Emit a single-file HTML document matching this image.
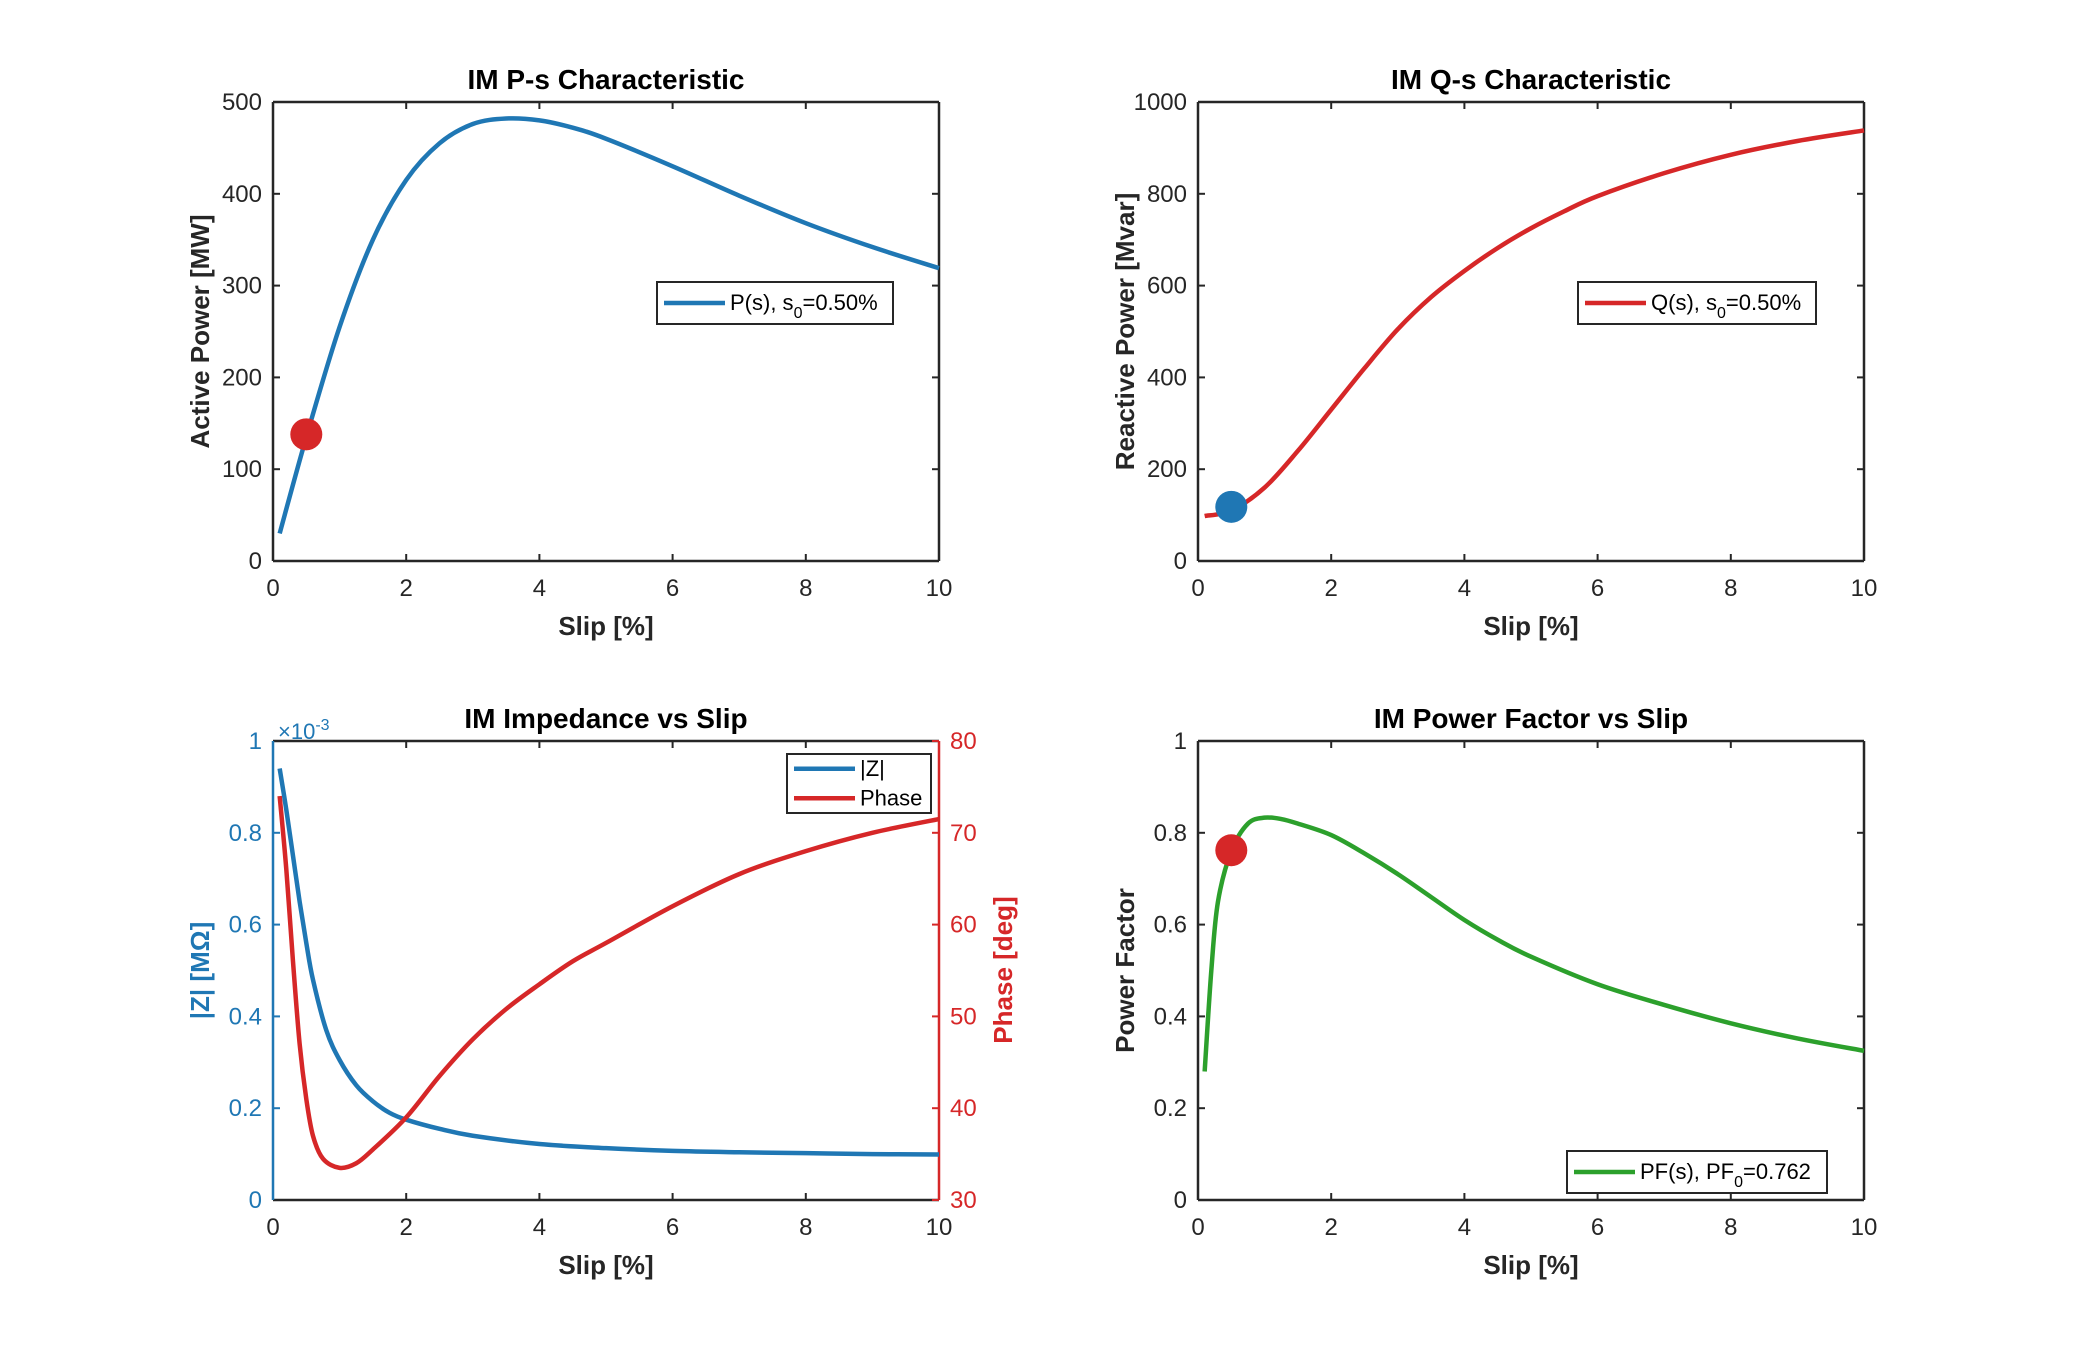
<!DOCTYPE html>
<html><head><meta charset="utf-8"><style>
body{margin:0;background:#fff}
svg{display:block;font-family:"Liberation Sans",Arial,sans-serif}
</style></head><body>
<svg id="fig" width="2100" height="1350" viewBox="0 0 2100 1350" xmlns="http://www.w3.org/2000/svg">
<rect width="2100" height="1350" fill="#fff"/>
</svg>
<script>
const pS=[0.1,0.5,1,1.5,2,2.5,3,3.5,4,4.5,5,6,7,8,9,10];
const pVals=[30,135,255,350,415,455,476,482,480,472,460,430,398,368,342,319];
const pMarker=[0.5,138];
const qS=[0.1,0.5,1,1.5,2,2.5,3,3.5,4,4.5,5,5.5,6,7,8,9,10];
const qVals=[98,110,160,240,330,420,505,575,632,682,725,762,795,845,885,915,938];
const qMarker=[0.5,118];
const zS=[0.1,0.2,0.3,0.4,0.5,0.6,0.8,1,1.25,1.5,1.75,2,2.5,3,4,5,6,7,8,9,10];
const zVals=[0.94,0.85,0.75,0.65,0.56,0.48,0.37,0.305,0.25,0.215,0.19,0.175,0.155,0.14,0.122,0.113,0.107,0.104,0.102,0.100,0.099];
const phS=[0.1,0.2,0.3,0.4,0.5,0.6,0.75,1,1.25,1.5,2,2.5,3,3.5,4,4.5,5,6,7,8,9,10];
const phVals=[74,66,56,47,41,37,34.5,33.5,34,35.5,39,43.5,47.5,50.8,53.5,56,58,62,65.5,68,70,71.5];
const pfS=[0.1,0.2,0.3,0.5,0.75,1,1.25,1.5,2,2.5,3,3.5,4,4.5,5,6,7,8,9,10];
const pfVals=[0.28,0.5,0.65,0.76,0.82,0.833,0.83,0.82,0.795,0.755,0.71,0.66,0.61,0.567,0.53,0.47,0.425,0.385,0.352,0.325];
const pfMarker=[0.5,0.762];
const xTicks=[0,2,4,6,8,10];
const pTicks=[0,100,200,300,400,500];
const qTicks=[0,200,400,600,800,1000];
const zTicks=[0,0.2,0.4,0.6,0.8,1];
const zTickLabels=["0","0.2","0.4","0.6","0.8","1"];
const phTicks=[30,40,50,60,70,80];
const pfTicks=[0,0.2,0.4,0.6,0.8,1];
const pfTickLabels=["0","0.2","0.4","0.6","0.8","1"];

const NS="http://www.w3.org/2000/svg";
const svg=document.getElementById('fig');
const BLUE="#1f77b4",RED="#d62728",GREEN="#2ca02c",AX="#262626";
function mk(tag,attrs,parent){const e=document.createElementNS(NS,tag);for(const k in attrs)e.setAttribute(k,attrs[k]);(parent||svg).appendChild(e);return e;}
function lin(d0,d1,r0,r1){return v=>r0+(v-d0)/(d1-d0)*(r1-r0);}
function pathD(xs,ys,X,Y){
  const P=xs.map((x,i)=>[X(x),Y(ys[i])]);
  let d="M"+P[0][0]+","+P[0][1];
  for(let i=0;i<P.length-1;i++){
    const p0=P[Math.max(0,i-1)],p1=P[i],p2=P[i+1],p3=P[Math.min(P.length-1,i+2)];
    const c1=[p1[0]+(p2[0]-p0[0])/6,p1[1]+(p2[1]-p0[1])/6];
    const c2=[p2[0]-(p3[0]-p1[0])/6,p2[1]-(p3[1]-p1[1])/6];
    d+=` C${c1[0]},${c1[1]} ${c2[0]},${c2[1]} ${p2[0]},${p2[1]}`;
  }
  return d;
}
function text(g,x,y,str,o){const t=mk('text',Object.assign({x:x,y:y,'font-size':24,fill:AX},o||{}),g);t.textContent=str;return t;}

function axes(name,L,T,W,H,title,ylabel,yTicks,yLabs,yMax,yMin,opts){
  opts=opts||{};
  const g=mk('g',{});
  
  
  const X=lin(0,10,L,L+W),Y=lin(yMin,yMax,T+H,T);
  const xg=mk('g',{},g);
  
  
  xTicks.forEach(v=>{
    mk('line',{x1:X(v),x2:X(v),y1:T+H,y2:T+H-7,stroke:AX,'stroke-width':2},xg);
    mk('line',{x1:X(v),x2:X(v),y1:T,y2:T+7,stroke:AX,'stroke-width':2},xg);
    text(xg,X(v),T+H+35,String(v),{'text-anchor':'middle'});
  });
  const xl=text(xg,L+W/2,T+H+74,"Slip [%]",{'text-anchor':'middle','font-weight':'bold','font-size':26});
  
  
  const yc=opts.yColor||AX;
  const yg=mk('g',{},g);
  
  
  yTicks.forEach((v,i)=>{
    mk('line',{x1:L,x2:L+7,y1:Y(v),y2:Y(v),stroke:yc,'stroke-width':2},yg);
    if(!opts.right) mk('line',{x1:L+W,x2:L+W-7,y1:Y(v),y2:Y(v),stroke:AX,'stroke-width':2},yg);
    text(yg,L-11,Y(v)+8,yLabs[i],{'text-anchor':'end',fill:yc});
  });
  const yl=text(yg,0,0,ylabel,{'text-anchor':'middle','font-weight':'bold','font-size':26,fill:yc,transform:`translate(${L-64},${T+H/2}) rotate(-90)`});
  
  
  const tt=text(g,L+W/2,T-13,title,{'text-anchor':'middle','font-weight':'bold','font-size':28,fill:'#000'});
  
  
  mk('line',{x1:L,y1:T+H,x2:L+W,y2:T+H,stroke:AX,'stroke-width':2.5},g);
  mk('line',{x1:L,y1:T,x2:L+W,y2:T,stroke:AX,'stroke-width':2.5},g);
  mk('line',{x1:L,y1:T,x2:L,y2:T+H,stroke:yc,'stroke-width':2.5},g);
  if(!opts.right) mk('line',{x1:L+W,y1:T,x2:L+W,y2:T+H,stroke:AX,'stroke-width':2.5},g);
  return {g,X,Y};
}
function series(ax,xs,ys,Y,color,name){
  const p=mk('path',{d:pathD(xs,ys,ax.X,Y),fill:'none',stroke:color,'stroke-width':4.5,'stroke-linejoin':'round'},ax.g);
  
  
}
function marker(ax,pt,Y,color,name){
  const c=mk('circle',{cx:ax.X(pt[0]),cy:Y(pt[1]),r:16,fill:color},ax.g);
  
  
}
function legend(g,x,y,w,h,entries,name){
  const lg=mk('g',{},g);
  
  
  mk('rect',{x:x,y:y,width:w,height:h,fill:'#fff',stroke:AX,'stroke-width':2},lg);
  const step=h/entries.length;
  entries.forEach((e,i)=>{
    const cy=y+step*(i+0.5);
    mk('line',{x1:x+7,x2:x+68,y1:cy,y2:cy,stroke:e.c,'stroke-width':4.5},lg);
    const t=mk('text',{x:x+73,y:cy+7,'font-size':22,fill:'#000'},lg);
    t.innerHTML=e.t;
  });
}
const a1=axes('p-s-chart',273,102,666,459,"IM P-s Characteristic","Active Power [MW]",pTicks,pTicks.map(String),500,0);
series(a1,pS,pVals,a1.Y,BLUE,'p-curve');
marker(a1,pMarker,a1.Y,RED,'operating-point-p');
legend(a1.g,657,282,236,42,[{c:BLUE,t:'P(s), s<tspan font-size="16" dy="8">0</tspan><tspan dy="-8">=0.50%</tspan>'}],'legend-p');
const a2=axes('q-s-chart',1198,102,666,459,"IM Q-s Characteristic","Reactive Power [Mvar]",qTicks,qTicks.map(String),1000,0);
series(a2,qS,qVals,a2.Y,RED,'q-curve');
marker(a2,qMarker,a2.Y,BLUE,'operating-point-q');
legend(a2.g,1578,282,238,42,[{c:RED,t:'Q(s), s<tspan font-size="16" dy="8">0</tspan><tspan dy="-8">=0.50%</tspan>'}],'legend-q');
const a3=axes('impedance-chart',273,741,666,459,"IM Impedance vs Slip","|Z| [M\u03A9]",zTicks,zTickLabels,1,0,{yColor:BLUE,right:true});
const Yph=lin(30,80,741+459,741);
const rg=mk('g',{},a3.g);


mk('line',{x1:939,y1:741,x2:939,y2:1200,stroke:RED,'stroke-width':2.5},rg);
phTicks.forEach(v=>{
  mk('line',{x1:939,x2:932,y1:Yph(v),y2:Yph(v),stroke:RED,'stroke-width':2},rg);
  text(rg,950,Yph(v)+8,String(v),{fill:RED});
});
text(rg,0,0,"Phase [deg]",{'text-anchor':'middle','font-weight':'bold','font-size':26,fill:RED,transform:`translate(1012,970) rotate(-90)`});
const ex=text(a3.g,278,739,"\u00D710",{fill:BLUE,'font-size':22});
const ex2=mk('tspan',{dy:-9,'font-size':16},ex);ex2.textContent="-3";
series(a3,zS,zVals,a3.Y,BLUE,'impedance-curve');
series(a3,phS,phVals,Yph,RED,'phase-curve');
legend(a3.g,787,754,144,59,[{c:BLUE,t:'|Z|'},{c:RED,t:'Phase'}],'legend-impedance');
const a4=axes('power-factor-chart',1198,741,666,459,"IM Power Factor vs Slip","Power Factor",pfTicks,pfTickLabels,1,0);
series(a4,pfS,pfVals,a4.Y,GREEN,'pf-curve');
marker(a4,pfMarker,a4.Y,RED,'operating-point-pf');
legend(a4.g,1567,1151,260,42,[{c:GREEN,t:'PF(s), PF<tspan font-size="16" dy="8">0</tspan><tspan dy="-8">=0.762</tspan>'}],'legend-pf');
</script>
</body></html>
